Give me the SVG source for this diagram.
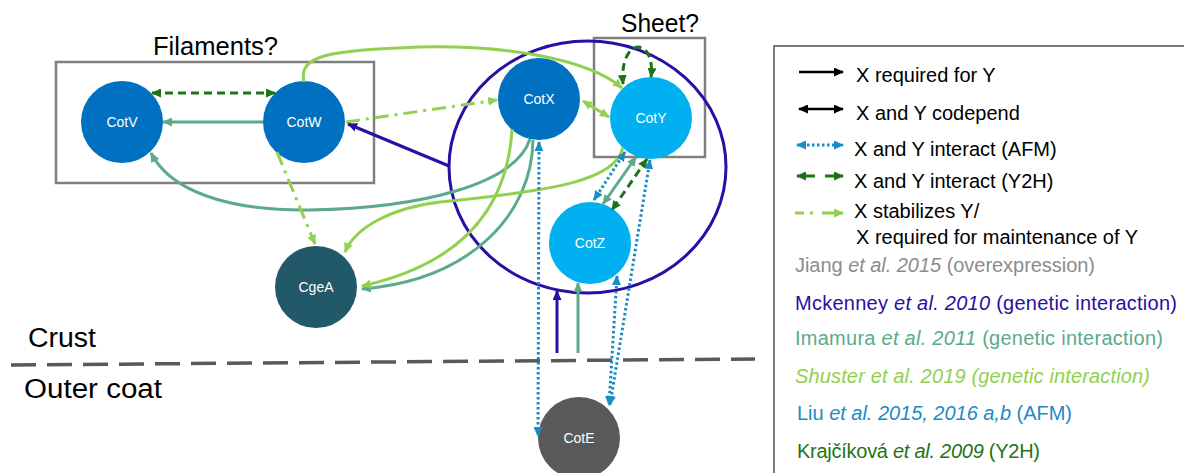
<svg xmlns="http://www.w3.org/2000/svg" width="1184" height="473" viewBox="0 0 1184 473">
  <style>
    text { font-family: "Liberation Sans", Arial, sans-serif; }
    .node-label { fill: #ffffff; font-size: 14px; text-anchor: middle; dominant-baseline: central; }
    .title { fill: #000000; font-size: 26px; }
    .layer { fill: #000000; font-size: 27px; }
    .legend { fill: #000000; font-size: 20px; }
    .cite { font-size: 20px; }
    .frame { fill: none; stroke: #7f7f7f; stroke-width: 2.5; }
    .edge { fill: none; stroke-width: 3; }
    .req { stroke: #000000; stroke-width: 2.5; }
    .mck { stroke: #2a0fa5; }
    .ima { stroke: #5baa8c; }
    .shu { stroke: #92d050; }
    .shu-dd { stroke: #92d050; stroke-dasharray: 14 6 3 6; }
    .afm { stroke: #1b8bc4; stroke-dasharray: 2.5 2.5; }
    .y2h { stroke: #1e7318; stroke-dasharray: 8 5; }
    .it { font-style: italic; }
  </style>
  <defs>
    <marker id="ah-black" viewBox="0 0 10 9" refX="9" refY="4.5" markerWidth="10" markerHeight="9" markerUnits="userSpaceOnUse" orient="auto-start-reverse"><path d="M0,0 L10,4.5 L0,9 z" fill="#000000"/></marker>
    <marker id="ah-mck" viewBox="0 0 10 9" refX="9" refY="4.5" markerWidth="10" markerHeight="9" markerUnits="userSpaceOnUse" orient="auto-start-reverse"><path d="M0,0 L10,4.5 L0,9 z" fill="#2a0fa5"/></marker>
    <marker id="ah-ima" viewBox="0 0 10 9" refX="9" refY="4.5" markerWidth="10" markerHeight="9" markerUnits="userSpaceOnUse" orient="auto-start-reverse"><path d="M0,0 L10,4.5 L0,9 z" fill="#5baa8c"/></marker>
    <marker id="ah-shu" viewBox="0 0 10 9" refX="9" refY="4.5" markerWidth="10" markerHeight="9" markerUnits="userSpaceOnUse" orient="auto-start-reverse"><path d="M0,0 L10,4.5 L0,9 z" fill="#92d050"/></marker>
    <marker id="ah-afm" viewBox="0 0 10 9" refX="9" refY="4.5" markerWidth="10" markerHeight="9" markerUnits="userSpaceOnUse" orient="auto-start-reverse"><path d="M0,0 L10,4.5 L0,9 z" fill="#1b8bc4"/></marker>
    <marker id="ah-y2h" viewBox="0 0 10 9" refX="9" refY="4.5" markerWidth="10" markerHeight="9" markerUnits="userSpaceOnUse" orient="auto-start-reverse"><path d="M0,0 L10,4.5 L0,9 z" fill="#1e7318"/></marker>
  </defs>

  <rect width="1184" height="473" fill="#ffffff"/>

  <!-- regions: candidate structures and the crust/outer coat boundary -->
  <g id="regions">
    <rect class="frame" x="56" y="62" width="318" height="121"/>
    <text class="title" x="153" y="55" textLength="125" lengthAdjust="spacingAndGlyphs">Filaments?</text>
    <rect class="frame" x="594" y="38" width="111" height="119"/>
    <text class="title" x="621" y="32" textLength="78" lengthAdjust="spacingAndGlyphs">Sheet?</text>
    <ellipse cx="587.5" cy="167" rx="138.5" ry="126" fill="none" stroke="#2a0fa5" stroke-width="3"/>
    <path d="M11,365 L755,359" fill="none" stroke="#595959" stroke-width="3.5" stroke-dasharray="25 11"/>
    <text class="layer" x="28" y="347" textLength="68" lengthAdjust="spacingAndGlyphs">Crust</text>
    <text class="layer" x="24" y="398" textLength="138" lengthAdjust="spacingAndGlyphs">Outer coat</text>
  </g>

  <!-- nodes -->
  <g id="node-CotV"><circle cx="122" cy="122" r="41" fill="#0070c0"/><text class="node-label" x="122" y="122">CotV</text></g>
  <g id="node-CotW"><circle cx="304" cy="122" r="41" fill="#0070c0"/><text class="node-label" x="304" y="122">CotW</text></g>
  <g id="node-CgeA"><circle cx="316" cy="287" r="41" fill="#215968"/><text class="node-label" x="316" y="287">CgeA</text></g>
  <g id="node-CotX"><circle cx="539" cy="99" r="41" fill="#0070c0"/><text class="node-label" x="539" y="99">CotX</text></g>
  <g id="node-CotY"><circle cx="651" cy="118" r="41" fill="#00b0f0"/><text class="node-label" x="651" y="118">CotY</text></g>
  <g id="node-CotZ"><circle cx="590" cy="243" r="41" fill="#00b0f0"/><text class="node-label" x="590" y="243">CotZ</text></g>
  <g id="node-CotE"><circle cx="579" cy="438" r="41" fill="#595959"/><text class="node-label" x="579" y="438">CotE</text></g>

  <!-- connectors -->
  <g id="connectors">
    <!-- Krajcikova (Y2H) -->
    <path class="edge y2h" d="M152,93 L275,93" marker-start="url(#ah-y2h)" marker-end="url(#ah-y2h)"/>
    <path class="edge y2h" d="M623,84 C619,36 656,36 651,77" marker-start="url(#ah-y2h)" marker-end="url(#ah-y2h)"/>
    <path class="edge y2h" d="M647,159 L612,210" marker-start="url(#ah-y2h)" marker-end="url(#ah-y2h)"/>

    <!-- Imamura (genetic interaction) -->
    <path class="edge ima" d="M263,122 L163,122" marker-end="url(#ah-ima)"/>
    <path class="edge ima" d="M530,139 C515,185 420,208 310,210 C225,211 170,190 151,153" marker-end="url(#ah-ima)"/>
    <path class="edge ima" d="M533,140 C532,215 470,280 362,289" marker-end="url(#ah-ima)"/>
    <path class="edge ima" d="M636,157 L603,204" marker-start="url(#ah-ima)" marker-end="url(#ah-ima)"/>
    <path class="edge ima" d="M578,353 L578,283" marker-end="url(#ah-ima)"/>

    <!-- Shuster (genetic interaction) -->
    <path class="edge shu" d="M304,82 C298,55 330,50 420,47 C510,45 590,60 622,88" marker-end="url(#ah-shu)"/>
    <path class="edge shu" d="M583,101 L609,117" marker-start="url(#ah-shu)" marker-end="url(#ah-shu)"/>
    <path class="edge shu" d="M623,147 C615,180 560,190 440,202 C390,208 355,228 345,252" marker-end="url(#ah-shu)"/>
    <path class="edge shu" d="M512,129 C508,200 470,262 362,286" marker-end="url(#ah-shu)"/>
    <path class="edge shu-dd" d="M346,122 L497,100" marker-end="url(#ah-shu)"/>
    <path class="edge shu-dd" d="M277,152 L315,244" marker-end="url(#ah-shu)"/>

    <!-- Mckenney (genetic interaction) -->
    <path class="edge mck" d="M449,166 L348,124" marker-end="url(#ah-mck)"/>
    <path class="edge mck" d="M557,353 L557,291" marker-end="url(#ah-mck)"/>

    <!-- Liu (AFM) -->
    <path class="edge afm" d="M539,142 L538,436" marker-start="url(#ah-afm)" marker-end="url(#ah-afm)"/>
    <path class="edge afm" d="M625,152 L594,200" marker-start="url(#ah-afm)" marker-end="url(#ah-afm)"/>
    <path class="edge afm" d="M650,160 L610,405" marker-start="url(#ah-afm)" marker-end="url(#ah-afm)"/>
    <path class="edge afm" d="M617,276 L609,405" marker-start="url(#ah-afm)" marker-end="url(#ah-afm)"/>
  </g>

  <!-- key -->
  <g id="legend">
    <rect x="774" y="46" width="420" height="440" fill="none" stroke="#7a7a7a" stroke-width="2"/>
    <path class="edge req" d="M799,72 L843,72" marker-end="url(#ah-black)"/>
    <path class="edge req" d="M799,109 L843,109" marker-start="url(#ah-black)" marker-end="url(#ah-black)"/>
    <path class="edge afm" d="M797,145 L843,145" marker-start="url(#ah-afm)" marker-end="url(#ah-afm)"/>
    <path class="edge" d="M797,176 L843,176" stroke="#1e7318" stroke-dasharray="18 10 18" marker-start="url(#ah-y2h)" marker-end="url(#ah-y2h)"/>
    <path class="edge" d="M795,213 L843,213" stroke="#92d050" stroke-dasharray="9 6 3 9 21" marker-end="url(#ah-shu)"/>

    <text class="legend" x="856" y="82">X required for Y</text>
    <text class="legend" x="856" y="120">X and Y codepend</text>
    <text class="legend" x="854" y="156">X and Y interact (AFM)</text>
    <text class="legend" x="854" y="188">X and Y interact (Y2H)</text>
    <text class="legend" x="854" y="218">X stabilizes Y/</text>
    <text class="legend" x="856" y="244">X required for maintenance of Y</text>

    <text class="cite" x="795" y="272" fill="#8c8c8c" textLength="300">Jiang <tspan class="it">et al. 2015</tspan> (overexpression)</text>
    <text class="cite" x="795" y="310" fill="#2a0fa5" textLength="382">Mckenney <tspan class="it">et al. 2010</tspan> (genetic interaction)</text>
    <text class="cite" x="795" y="345" fill="#5baa8c" textLength="368">Imamura <tspan class="it">et al. 2011</tspan> (genetic interaction)</text>
    <text class="cite it" x="795" y="383" fill="#92d050" textLength="355">Shuster et al. 2019 (genetic interaction)</text>
    <text class="cite" x="797" y="420" fill="#1b8bc4" textLength="275">Liu <tspan class="it">et al. 2015, 2016 a,b</tspan> (AFM)</text>
    <text class="cite" x="797" y="458" fill="#1e7318" textLength="243">Krajčíková <tspan class="it">et al. 2009</tspan> (Y2H)</text>
  </g>
</svg>
